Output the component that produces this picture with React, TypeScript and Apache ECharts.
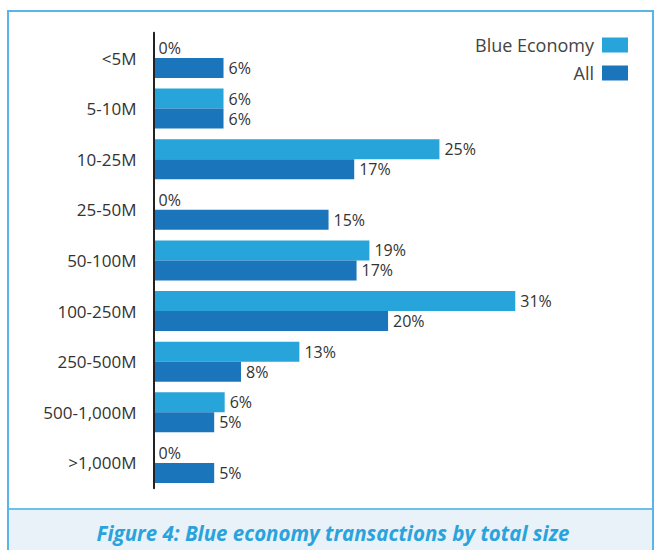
import React, { useEffect, useRef } from "react";
import * as echarts from "echarts";

const categories = ["<5M", "5-10M", "10-25M", "25-50M", "50-100M", "100-250M", "250-500M", "500-1,000M", ">1,000M"];
const blueEconomy = [0, 6, 24.5, 0, 18.5, 31, 12.5, 6.1, 0];
const allDeals = [6, 6, 17.2, 15, 17.4, 20.1, 7.5, 5.2, 5.2];
const seriesNames = ["Blue Economy", "All"];
const captionText = "Figure 4: Blue economy transactions by total size";

const FONT = "'Open Sans', 'Noto Sans', sans-serif";

export default function App() {
  const ref = useRef<HTMLDivElement>(null);
  useEffect(() => {
    if (!ref.current) return;
    const chart = echarts.init(ref.current, undefined, { renderer: "svg" });
    const label = {
      show: true,
      position: "right",
      distance: 5,
      fontSize: 16,
      color: "#333",
      fontFamily: FONT,
      formatter: (p: any) => Math.round(p.value) + "%",
    };
    chart.setOption({
      animation: false,
      backgroundColor: "#ffffff",
      title: {
        text: captionText,
        left: 328,
        textAlign: "center",
        top: 518,
        textStyle: {
          fontSize: 20.5,
          fontStyle: "italic",
          fontWeight: "bold",
          color: "#29a3dc",
          fontFamily: FONT,
        },
      },
      legend: {
        orient: "vertical",
        right: 22,
        top: 31,
        align: "right",
        itemWidth: 26,
        itemHeight: 15,
        itemGap: 10,
        icon: "rect",
        textStyle: { fontSize: 18, color: "#444", fontFamily: FONT, padding: [0, 3, 0, 0] },
        data: seriesNames,
      },
      graphic: [
        {
          type: "rect",
          z: -10,
          shape: { x: 9, y: 509, width: 644, height: 45 },
          style: { fill: "#e9f1f9" },
        },
        {
          type: "line",
          z: -5,
          shape: { x1: 9, y1: 509, x2: 653, y2: 509 },
          style: { stroke: "#6cc0ea", lineWidth: 2 },
        },
        {
          type: "rect",
          z: -5,
          shape: { x: 8, y: 11, width: 645, height: 560 },
          style: { fill: "none", stroke: "#5ab4e5", lineWidth: 2 },
        },
      ],
      grid: { left: 153.5, top: 32.7, width: 466.8, height: 455.5, containLabel: false },
      xAxis: {
        type: "value",
        min: 0,
        max: 40,
        show: false,
      },
      yAxis: {
        type: "category",
        inverse: true,
        data: categories,
        z: 10,
        axisTick: { show: false },
        axisLine: { lineStyle: { color: "#222", width: 2 } },
        axisLabel: { fontSize: 17, color: "#333", margin: 17, fontFamily: FONT },
      },
      series: [
        {
          name: seriesNames[0],
          type: "bar",
          data: blueEconomy,
          barWidth: 20,
          barGap: "0%",
          itemStyle: { color: "#27a4da" },
          label,
        },
        {
          name: seriesNames[1],
          type: "bar",
          data: allDeals,
          barWidth: 20,
          barGap: "0%",
          itemStyle: { color: "#1b75bb" },
          label,
        },
      ],
    });
    return () => chart.dispose();
  }, []);
  return (
    <div
      ref={ref}
      style={{ position: "fixed", left: 0, top: 0, width: 655, height: 550 }}
    />
  );
}
